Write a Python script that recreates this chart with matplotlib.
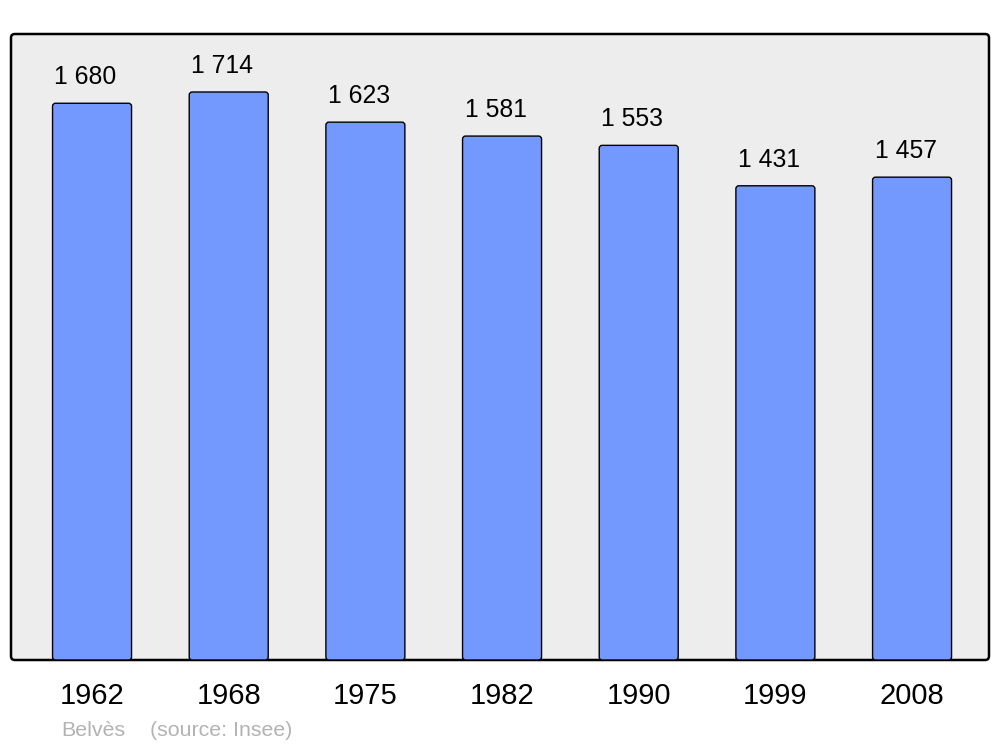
import matplotlib
matplotlib.use("Agg")
import matplotlib.pyplot as plt
from matplotlib.patches import FancyBboxPatch

years = ["1962", "1968", "1975", "1982", "1990", "1999", "2008"]
population = [1680, 1714, 1623, 1581, 1553, 1431, 1457]
value_labels = ["1 680", "1 714", "1 623", "1 581", "1 553", "1 431", "1 457"]
commune = "Belvès"
source = "(source: Insee)"

plt.rcParams['font.family'] = ['Liberation Sans', 'DejaVu Sans']

fig = plt.figure(figsize=(10, 7.47), dpi=100)
ax = fig.add_axes([0.011, 87 / 747, 0.978, 626 / 747])
ax.set_xlim(-0.593, 6.563)
ax.set_ylim(0, 1889)
ax.patch.set_visible(False)
for s in ax.spines.values():
    s.set_visible(False)

# rounded background frame
frame = FancyBboxPatch((0, 0), 1, 1, boxstyle="round,pad=0,rounding_size=0.004",
                       transform=ax.transAxes, facecolor="#ededed", edgecolor="black",
                       linewidth=1.8, zorder=0, clip_on=False, mutation_aspect=978 / 626)
ax.add_patch(frame)

x = list(range(len(years)))
bars = ax.bar(x, population, width=0.578, color="#7399ff", edgecolor="black", linewidth=1.0)
px_x = 978 / (6.563 + 0.593)
px_y = 626 / 1889
r_px = 3.0
for b in bars:
    b.set_visible(False)
    p = FancyBboxPatch((b.get_x(), b.get_y()), b.get_width(), b.get_height(),
                       boxstyle=f"round,pad=0,rounding_size={r_px / px_x}",
                       mutation_aspect=(1 / px_y) / (1 / px_x),
                       facecolor="#7399ff", edgecolor="black", linewidth=1.0, zorder=2)
    ax.add_patch(p)

for xi, v, lab in zip(x, population, value_labels):
    ax.annotate(lab, (xi, v), xytext=(-4.7, 26 * 0.72), textcoords="offset points",
                ha="center", va="center", fontsize=17.8, color="black")

ax.set_xticks(x)
ax.set_xticklabels(years, fontsize=21)
ax.tick_params(axis="x", length=0, pad=16)
ax.set_yticks([])

fig.text(61 / 1000, 1 - 730.5 / 747, commune, fontsize=15.4, color="#b3b3b3", va="center", ha="left")
fig.text(150 / 1000, 1 - 730.5 / 747, source, fontsize=15.4, color="#b3b3b3", va="center", ha="left")

fig.savefig("out.png", dpi=100, facecolor="white")
